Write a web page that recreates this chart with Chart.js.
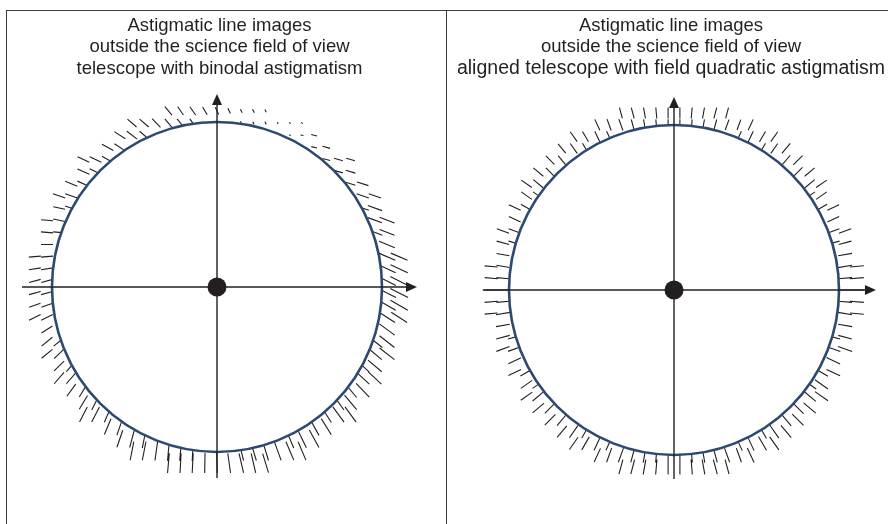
<!DOCTYPE html>
<html>
<head>
<meta charset="utf-8">
<script src="https://cdn.jsdelivr.net/npm/chart.js@4.4.1/dist/chart.umd.min.js"></script>
<style>
  html, body { margin: 0; padding: 0; background: #fff; overflow: hidden; }
  #page { position: relative; width: 888px; height: 524px; overflow: hidden; background: #fff; }
  .frame { position: absolute; top: 10px; height: 530px; box-sizing: border-box; border-top: 1px solid #3a3a3a; }
  #frameL { left: 6px; width: 441px; border-left: 1px solid #3a3a3a; border-right: 1px solid #3a3a3a; }
  #frameR { left: 446px; width: 442px; }
  .panel { position: absolute; top: 0; }
  #panelL { left: 0; }
  #panelR { left: 448px; }
</style>
</head>
<body>
<div id="page">
  <div class="frame" id="frameL"></div>
  <div class="frame" id="frameR"></div>
  <div class="panel" id="panelL"><canvas id="chartL" width="439" height="524"></canvas></div>
  <div class="panel" id="panelR"><canvas id="chartR" width="446" height="524"></canvas></div>
</div>
<script>
// Field angle of each tabulated line image (degrees, counter-clockwise from +x).
const fieldAngles = [
  0, 5, 10, 15, 20, 25, 30, 35, 40, 45, 50, 55, 60, 65, 70, 75, 80, 85,
  90, 95, 100, 105, 110, 115, 120, 125, 130, 135, 140, 145, 150, 155, 160, 165, 170, 175,
  180, 185, 190, 195, 200, 205, 210, 215, 220, 225, 230, 235, 240, 245, 250, 255, 260, 265,
  270, 275, 280, 285, 290, 295, 300, 305, 310, 315, 320, 325, 330, 335, 340, 345, 350, 355
];

// Binodal astigmatism: line-image orientation (deg) at each field angle.
const binodalTilt = [
  153, 155, 157, 158, 159, 160, 161, 162, 163, 164, 165, 166, 170, 140, 125, 118, 117, 116,
  116, 120, 125, 130, 134, 139, 143, 147, 151, 154, 156, 158, 161, 168, 175, 180, 185, 189,
  195, 200, 207, 213, 219, 224, 229, 234, 239, 243, 247, 251, 255, 259, 262, 265, 267, 269,
  272, 278, 283, 287, 290, 293, 296, 299, 302, 306, 310, 314, 317, 320, 322, 324, 327, 330
];
// Binodal astigmatism: line-image length, in units of the science-field radius.
const binodalLength = [
  0.121, 0.115, 0.109, 0.103, 0.097, 0.091, 0.079, 0.073, 0.061, 0.055, 0.048, 0.036, 0.018, 0.012, 0.012, 0.018, 0.024, 0.036,
  0.048, 0.055, 0.061, 0.067, 0.073, 0.073, 0.079, 0.079, 0.079, 0.079, 0.079, 0.079, 0.079, 0.073, 0.073, 0.073, 0.073, 0.073,
  0.073, 0.073, 0.079, 0.079, 0.085, 0.085, 0.091, 0.091, 0.097, 0.103, 0.103, 0.109, 0.109, 0.115, 0.115, 0.121, 0.121, 0.121,
  0.121, 0.121, 0.121, 0.121, 0.121, 0.121, 0.121, 0.121, 0.115, 0.115, 0.115, 0.115, 0.109, 0.109, 0.115, 0.115, 0.115, 0.121
];

// Field-quadratic astigmatism: line-image orientation (deg) at each field angle.
const quadraticTilt = [
  0, 5, 10, 15, 20, 25, 30, 35, 40, 45, 50, 55, 60, 65, 70, 75, 80, 85,
  90, 95, 100, 105, 110, 115, 120, 125, 130, 135, 140, 145, 150, 155, 160, 165, 170, 175,
  180, 185, 190, 195, 200, 205, 210, 215, 220, 225, 230, 235, 240, 245, 250, 255, 260, 265,
  270, 275, 280, 285, 290, 295, 300, 305, 310, 315, 320, 325, 330, 335, 340, 345, 350, 355
];
// Field-quadratic astigmatism: line-image length, in units of the science-field radius.
const quadraticLength = [
  0.085, 0.085, 0.085, 0.079, 0.079, 0.079, 0.079, 0.079, 0.079, 0.079, 0.079, 0.073, 0.073, 0.073, 0.067, 0.067, 0.067, 0.067,
  0.067, 0.067, 0.067, 0.067, 0.073, 0.073, 0.073, 0.073, 0.073, 0.073, 0.079, 0.079, 0.079, 0.079, 0.079, 0.079, 0.079, 0.079,
  0.079, 0.079, 0.085, 0.085, 0.085, 0.085, 0.085, 0.085, 0.091, 0.091, 0.091, 0.091, 0.091, 0.091, 0.091, 0.091, 0.091, 0.091,
  0.091, 0.091, 0.091, 0.091, 0.091, 0.097, 0.097, 0.097, 0.097, 0.097, 0.097, 0.097, 0.091, 0.091, 0.091, 0.085, 0.085, 0.085
];

// Field points sampled outside the science field (square grid, field-radius units).
const binodalSampling = { step: 0.0736, phaseX: 0.0, phaseY: 0.5, rIn: 1.0, rOut: 1.12 };
const quadraticSampling = { step: 0.0715, phaseX: 0.5, phaseY: 0.0, rIn: 1.0, rOut: 1.12 };

const FIELD_RADIUS = 1.0;

const binodalTitle = ['Astigmatic line images', 'outside the science field of view'];
const binodalSubtitle = 'telescope with binodal astigmatism';
const quadraticTitle = ['Astigmatic line images', 'outside the science field of view'];
const quadraticSubtitle = 'aligned telescope with field quadratic astigmatism';

const INK = '#231f20';
const FIELD_EDGE = '#2c4a70';
const FONT_FAMILY = "'Liberation Sans', Arial, sans-serif";

// Builds the line-image segments (gaps separate the individual segments).
function lineImages(sampling, tilt, length) {
  const pts = [];
  const n = Math.ceil(sampling.rOut / sampling.step) + 2;
  for (let i = -n; i <= n; i++) {
    for (let j = -n; j <= n; j++) {
      const x = (i + sampling.phaseX) * sampling.step;
      const y = (j + sampling.phaseY) * sampling.step;
      const r = Math.hypot(x, y);
      if (r <= sampling.rIn || r > sampling.rOut) continue;
      let theta = Math.atan2(y, x) * 180 / Math.PI;
      if (theta < 0) theta += 360;
      let k = 0, best = 1e9;
      fieldAngles.forEach((a, idx) => {
        let d = Math.abs(theta - a); d = Math.min(d, 360 - d);
        if (d < best) { best = d; k = idx; }
      });
      const phi = tilt[k] * Math.PI / 180;
      const h = length[k] / 2;
      pts.push({ x: x - h * Math.cos(phi), y: y - h * Math.sin(phi) });
      pts.push({ x: x + h * Math.cos(phi), y: y + h * Math.sin(phi) });
      pts.push({ x: x, y: null });
    }
  }
  return pts;
}

// White science field with its outline, then the two field axes with arrows.
const fieldOverlay = {
  id: 'fieldOverlay',
  afterDatasetDraw(chart, args, opts) {
    if (args.index !== 0) return;
    const { ctx } = chart;
    const xs = chart.scales.x, ys = chart.scales.y;
    const cx = xs.getPixelForValue(0), cy = ys.getPixelForValue(0);
    const rad = xs.getPixelForValue(FIELD_RADIUS) - cx;
    ctx.save();
    ctx.beginPath();
    ctx.arc(cx, cy, rad, 0, Math.PI * 2);
    ctx.fillStyle = '#ffffff';
    ctx.fill();
    ctx.lineWidth = 2.6;
    ctx.strokeStyle = FIELD_EDGE;
    ctx.stroke();

    const x0 = xs.getPixelForValue(opts.axisX[0]), x1 = xs.getPixelForValue(opts.axisX[1]);
    const y0 = ys.getPixelForValue(opts.axisY[0]), y1 = ys.getPixelForValue(opts.axisY[1]);
    const head = 11, half = 5;
    ctx.strokeStyle = INK;
    ctx.fillStyle = INK;
    ctx.lineWidth = 1.4;
    ctx.beginPath();
    ctx.moveTo(x0, cy); ctx.lineTo(x1 - head + 1, cy);
    ctx.moveTo(cx, y0); ctx.lineTo(cx, y1 + head - 1);
    ctx.stroke();
    ctx.beginPath();
    ctx.moveTo(x1, cy); ctx.lineTo(x1 - head, cy - half); ctx.lineTo(x1 - head, cy + half); ctx.closePath();
    ctx.fill();
    ctx.beginPath();
    ctx.moveTo(cx, y1); ctx.lineTo(cx - half, y1 + head); ctx.lineTo(cx + half, y1 + head); ctx.closePath();
    ctx.fill();
    ctx.restore();
  }
};

function buildPanel(canvasId, title, subtitle, subtitleSize, sampling, tilt, length, axisX, axisY, xRange, yRange) {
  return new Chart(document.getElementById(canvasId), {
    type: 'scatter',
    data: {
      datasets: [
        {
          type: 'line',
          data: lineImages(sampling, tilt, length),
          borderColor: INK,
          borderWidth: 1.1,
          pointRadius: 0,
          spanGaps: false,
          fill: false,
          tension: 0,
          order: 2
        },
        {
          type: 'scatter',
          data: [{ x: 0, y: 0 }],
          pointRadius: 9.5,
          pointBackgroundColor: INK,
          pointBorderWidth: 0,
          order: 0
        }
      ]
    },
    options: {
      responsive: false,
      animation: false,
      devicePixelRatio: 1,
      layout: { padding: 0, autoPadding: false },
      plugins: {
        legend: { display: false },
        tooltip: { enabled: false },
        title: {
          display: true,
          text: title,
          color: INK,
          font: { family: FONT_FAMILY, size: 18.5, weight: 'normal', lineHeight: '21.5px' },
          padding: { top: 15, bottom: 0 }
        },
        subtitle: {
          display: true,
          text: subtitle,
          color: INK,
          font: { family: FONT_FAMILY, size: subtitleSize, weight: 'normal', lineHeight: '21.5px' },
          padding: { top: 0, bottom: 5.5 }
        },
        fieldOverlay: { axisX, axisY }
      },
      scales: {
        x: { type: 'linear', display: false, min: xRange[0], max: xRange[1] },
        y: { type: 'linear', display: false, min: yRange[0], max: yRange[1] }
      }
    },
    plugins: [fieldOverlay]
  });
}

buildPanel('chartL', binodalTitle, binodalSubtitle, 18.5, binodalSampling, binodalTilt, binodalLength,
  [-1.182, 1.212], [-1.158, 1.170], [-217 / 165, 222 / 165], [-237 / 165, 202 / 165]);
buildPanel('chartR', quadraticTitle, quadraticSubtitle, 19.5, quadraticSampling, quadraticTilt, quadraticLength,
  [-1.159, 1.224], [-1.145, 1.170], [-226 / 165, 220 / 165], [-234 / 165, 205 / 165]);
</script>
</body>
</html>
